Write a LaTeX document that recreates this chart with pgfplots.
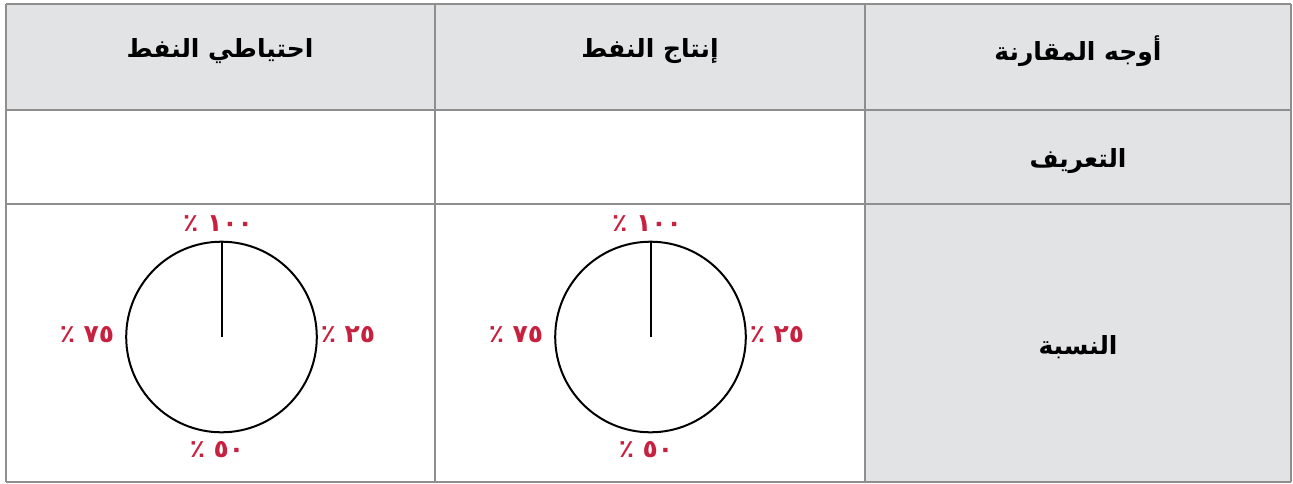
\documentclass[border=0pt]{standalone}
\usepackage{pgfplots}
\pgfplotsset{compat=1.18}
\usepackage{fontspec}
\TeXXeTstate=1
\newfontfamily\arabicfont[Script=Arabic]{DejaVu Sans}
\definecolor{cellgray}{HTML}{E2E3E5}
\definecolor{rulegray}{HTML}{8E8E8E}
\definecolor{labelred}{HTML}{C8203F}
\tikzset{
  head/.style={font=\arabicfont\bfseries\fontsize{25}{30}\selectfont},
  pct/.style={labelred, font=\arabicfont\bfseries\fontsize{25}{30}\selectfont},
}

\begin{document}
\begin{tikzpicture}
\begin{axis}[
    scale only axis,
    width=1293pt, height=484pt,
    xmin=0, xmax=1293, ymin=0, ymax=484,
    y dir=reverse,
    hide axis,
    clip=false,
    ]
    % background and shaded cells
    \addplot[draw=none, fill=white] coordinates {(0,0)(1293,0)(1293,484)(0,484)(0,0)};
    \addplot[draw=none, fill=cellgray] coordinates {(6,4)(1291,4)(1291,110)(6,110)(6,4)};
    \addplot[draw=none, fill=cellgray] coordinates {(865,110)(1291,110)(1291,482)(865,482)(865,110)};

    % table rules
    \addplot[rulegray, line width=2.4pt] coordinates {(6,4)(1291,4)};
    \addplot[rulegray, line width=2.4pt] coordinates {(6,110)(1291,110)};
    \addplot[rulegray, line width=2.4pt] coordinates {(6,204)(1291,204)};
    \addplot[rulegray, line width=2.4pt] coordinates {(6,482)(1291,482)};
    \addplot[rulegray, line width=2.4pt] coordinates {(6,4)(6,482)};
    \addplot[rulegray, line width=2.4pt] coordinates {(435,4)(435,482)};
    \addplot[rulegray, line width=2.4pt] coordinates {(865,4)(865,482)};
    \addplot[rulegray, line width=2.4pt] coordinates {(1291,4)(1291,482)};

    % dials
    \addplot[only marks, mark=o, mark size=95.3pt, line width=2pt,
        mark options={draw=black, line width=2pt}]
        coordinates {(221.5,337)(650.5,337)};
    \addplot[black, line width=2pt] coordinates {(221.5,337)(221.5,242)};
    \addplot[black, line width=2pt] coordinates {(650.5,337)(650.5,242)};

    % headers
    \node[head] at (axis cs:220,51) {\beginR احتياطي النفط\endR};
    \node[head] at (axis cs:650,51) {\beginR إنتاج النفط\endR};
    \node[head] at (axis cs:1078,51) {\beginR أوجه المقارنة\endR};
    \node[head] at (axis cs:1078,161) {\beginR التعريف\endR};
    \node[head] at (axis cs:1078,347) {\beginR النسبة\endR};

    % percentage labels, first dial
    \node[pct] at (axis cs:218,224) {\beginR ١٠٠ ٪\endR};
    \node[pct] at (axis cs:87,335) {\beginR ٧٥ ٪\endR};
    \node[pct] at (axis cs:348,335) {\beginR ٢٥ ٪\endR};
    \node[pct] at (axis cs:217,450) {\beginR ٥٠ ٪\endR};
    % second dial
    \node[pct] at (axis cs:647,224) {\beginR ١٠٠ ٪\endR};
    \node[pct] at (axis cs:516,335) {\beginR ٧٥ ٪\endR};
    \node[pct] at (axis cs:777,335) {\beginR ٢٥ ٪\endR};
    \node[pct] at (axis cs:646,450) {\beginR ٥٠ ٪\endR};
\end{axis}
\end{tikzpicture}
\end{document}
